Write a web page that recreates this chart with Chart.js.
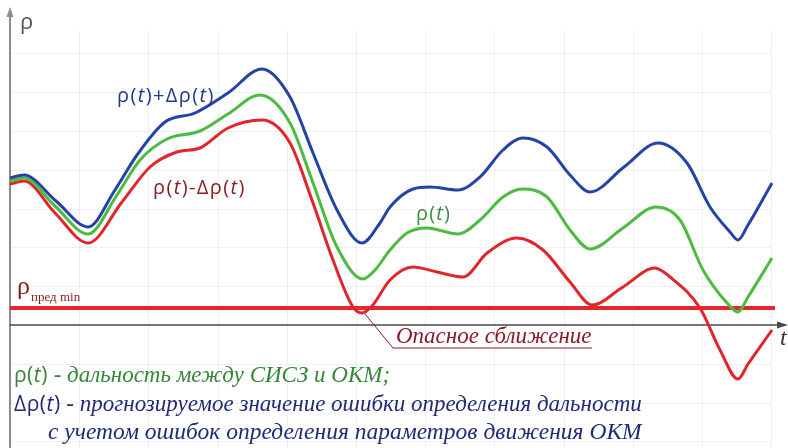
<!DOCTYPE html>
<html>
<head>
<meta charset="utf-8">
<script src="https://cdn.jsdelivr.net/npm/chart.js@4.4.1/dist/chart.umd.min.js"></script>
<style>
  html, body { margin: 0; padding: 0; background: #fff; }
  #wrap { position: relative; width: 788px; height: 448px; }
</style>
</head>
<body>
<div id="wrap"><canvas id="rangeChart" width="788" height="448"></canvas></div>
<script>
// ---- data (t along the axis, ρ above the t axis) ----
const upperT   = [0, 14, 46, 78, 105, 127, 155, 185, 218, 252, 280, 303, 327, 352, 370, 380, 403, 420, 448, 470, 493, 513, 537, 560, 580, 614, 648, 677, 700, 720, 728, 738, 762];
const upperRho = [147, 150, 124, 98, 135, 170, 203, 212, 232, 256, 228, 172, 115, 82, 102, 118, 136, 138, 135, 148, 175, 187, 178, 150, 133, 158, 182, 162, 118, 93, 85, 100, 142];

const rhoT   = [0, 14, 44, 78, 107, 130, 157, 190, 218, 250, 280, 303, 327, 353, 365, 380, 397, 417, 448, 470, 493, 512, 537, 560, 580, 613, 646, 670, 693, 718, 728, 738, 762];
const rhoVal = [144, 147, 120, 91, 130, 165, 186, 194, 211, 230, 202, 142, 78, 46, 55, 75, 92, 97, 91, 105, 128, 136, 128, 95, 76, 97, 118, 105, 55, 21, 13, 28, 67];

const lowerT   = [0, 14, 45, 78, 112, 140, 167, 190, 218, 252, 280, 303, 323, 343, 352, 362, 380, 403, 427, 453, 477, 507, 533, 560, 582, 613, 645, 660, 690, 710, 728, 738, 762];
const lowerRho = [141, 144, 112, 82, 123, 158, 173, 177, 197, 205, 182, 122, 65, 18, 12, 19, 45, 58, 53, 48, 72, 87, 75, 43, 20, 38, 57, 48, 17, -25, -54, -39, -5];

const limitT   = [0, 765];
const limitRho = [17, 17];

const gridT   = [69, 138, 208, 277, 346, 415, 484, 554, 623, 692, 761];
const gridRho = [-116, -78, -39, 39, 78, 116, 155, 194, 233, 272];

const toPoints = (ts, vs) => ts.map((t, i) => ({ x: t, y: vs[i] }));

// ========================================
// DECOR: grid, axes, labels
// ========================================
function drawRuns(ctx, x, y, runs) {
  let cx = x;
  runs.forEach(([text, font, color, spacing]) => {
    ctx.font = font;
    ctx.fillStyle = color;
    ctx.letterSpacing = (spacing || 0) + "px";
    ctx.fillText(text, cx, y);
    cx += ctx.measureText(text).width;
  });
  ctx.letterSpacing = "0px";
}

const SANS = '"Open Sans", sans-serif';
const SERIF = '"Liberation Serif", serif';

// ρ(t) style label: upright sans, italic t
function rhoLabel(prefix, middle, size, color, spacing) {
  const up = size + "px " + SANS, it = "italic " + size + "px " + SANS;
  const runs = [[prefix + "(", up, color, spacing], ["t", it, color, spacing]];
  if (middle) runs.push([")" + middle + "(", up, color, spacing], ["t", it, color, spacing]);
  runs.push([")", up, color, spacing]);
  return runs;
}

const decorPlugin = {
  id: "decor",
  beforeDatasetsDraw(chart) {
    const { ctx, scales: { x, y } } = chart;
    const x0 = x.getPixelForValue(0);
    const y0 = y.getPixelForValue(0);
    const gridTop = y.getPixelForValue(295);
    const gridRight = x.getPixelForValue(761);

    ctx.save();
    ctx.strokeStyle = "rgba(0,0,0,0.06)";
    ctx.lineWidth = 1;
    gridT.forEach((t) => {
      const px = Math.round(x.getPixelForValue(t)) + 0.5;
      ctx.beginPath();
      ctx.moveTo(px, gridTop);
      ctx.lineTo(px, chart.height);
      ctx.stroke();
    });
    gridRho.forEach((v) => {
      const py = Math.round(y.getPixelForValue(v)) + 0.5;
      ctx.beginPath();
      ctx.moveTo(x0, py);
      ctx.lineTo(gridRight, py);
      ctx.stroke();
    });

    // ρ axis
    ctx.strokeStyle = "#8c8c8c";
    ctx.fillStyle = "#8c8c8c";
    ctx.lineWidth = 2;
    ctx.beginPath();
    ctx.moveTo(x0, chart.height);
    ctx.lineTo(x0, 14);
    ctx.stroke();
    ctx.beginPath();
    ctx.moveTo(x0, 7);
    ctx.lineTo(x0 - 3.5, 17);
    ctx.lineTo(x0 + 3.5, 17);
    ctx.closePath();
    ctx.fill();

    // t axis
    ctx.strokeStyle = "#4a4a4a";
    ctx.fillStyle = "#4a4a4a";
    ctx.lineWidth = 1.5;
    ctx.beginPath();
    ctx.moveTo(x0, y0);
    ctx.lineTo(780, y0);
    ctx.stroke();
    ctx.beginPath();
    ctx.moveTo(788, y0);
    ctx.lineTo(777, y0 - 3.5);
    ctx.lineTo(777, y0 + 3.5);
    ctx.closePath();
    ctx.fill();
    ctx.restore();
  },
  afterDatasetsDraw(chart) {
    const { ctx, scales: { x, y } } = chart;
    ctx.save();
    ctx.textBaseline = "alphabetic";

    // axis names
    drawRuns(ctx, 20, 29, [["ρ", "22px " + SANS, "#555"]]);
    drawRuns(ctx, 780, 345, [["t", "italic 24px " + SERIF, "#333"]]);

    // curve labels
    const blue = "#24398e", red = "#8a1c1c", green = "#3c8f3c";
    drawRuns(ctx, 117, 102, rhoLabel("ρ", "+Δρ", 20, blue, 1.4));
    drawRuns(ctx, 153, 194, rhoLabel("ρ", "-Δρ", 20, red, 1.4));
    drawRuns(ctx, 416, 220, rhoLabel("ρ", null, 20, green, 1.2));

    // limit label
    drawRuns(ctx, 17, 294, [["ρ", "26px " + SERIF, red]]);
    drawRuns(ctx, 31, 301, [["пред min", "13px " + SERIF, red]]);

    // dangerous approach callout
    const cRed = "#8a1c26";
    const mx = x.getPixelForValue(355), my = y.getPixelForValue(11);
    const ux = x.getPixelForValue(383), uy = y.getPixelForValue(-23);
    const ex = x.getPixelForValue(582);
    ctx.strokeStyle = cRed;
    ctx.lineWidth = 1;
    ctx.beginPath();
    ctx.moveTo(mx, my);
    ctx.lineTo(ux, uy);
    ctx.lineTo(ex, uy);
    ctx.stroke();
    drawRuns(ctx, 396, 343, [["Опасное сближение", "italic 23px " + SERIF, cRed]]);

    // notes
    const nGreen = "#36873a", nBlue = "#1f2a78";
    drawRuns(ctx, 14, 382, [
      ...rhoLabel("ρ", null, 21, nGreen, 0.5),
      [" - дальность между СИСЗ и ОКМ;", "italic 23px " + SERIF, nGreen],
    ]);
    drawRuns(ctx, 14, 411, [
      ...rhoLabel("Δρ", null, 21, nBlue, 0.5),
      [" - прогнозируемое значение ошибки определения дальности", "italic 23px " + SERIF, nBlue],
    ]);
    drawRuns(ctx, 48, 439, [
      ["с учетом ошибок определения параметров движения ОКМ", "italic 23.5px " + SERIF, nBlue],
    ]);
    ctx.restore();
  },
};

// ========================================
// CHART
// ========================================
const lineStyle = {
  borderWidth: 3,
  pointRadius: 0,
  fill: false,
  cubicInterpolationMode: "monotone",
};

new Chart(document.getElementById("rangeChart"), {
  type: "line",
  data: {
    datasets: [
      { ...lineStyle, label: "ρ(t)+Δρ(t)", data: toPoints(upperT, upperRho), borderColor: "#2443a6" },
      { ...lineStyle, label: "ρ(t)", data: toPoints(rhoT, rhoVal), borderColor: "#4dbb3f" },
      { ...lineStyle, label: "ρ(t)-Δρ(t)", data: toPoints(lowerT, lowerRho), borderColor: "#e0262b" },
      { ...lineStyle, label: "ρ пред min", data: toPoints(limitT, limitRho), borderColor: "#e3282b", borderWidth: 4, tension: 0 },
    ],
  },
  options: {
    responsive: false,
    animation: false,
    layout: { padding: 0 },
    scales: {
      x: { type: "linear", min: -10, max: 778, display: false },
      y: { type: "linear", min: -123, max: 325, display: false },
    },
    plugins: { legend: { display: false }, tooltip: { enabled: false } },
  },
  plugins: [decorPlugin],
});
</script>
</body>
</html>
